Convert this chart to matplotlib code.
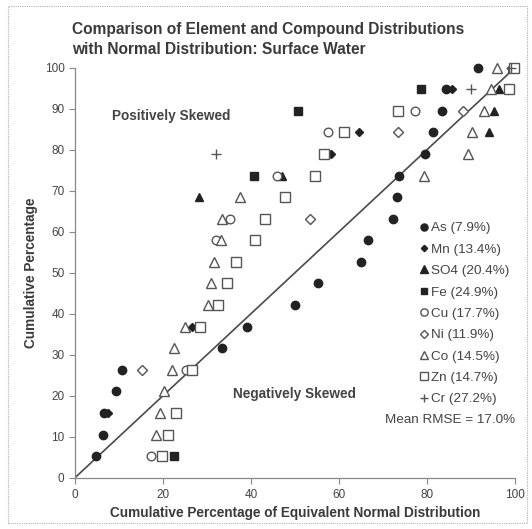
import matplotlib
matplotlib.use("Agg")
import matplotlib.pyplot as plt
from matplotlib.patches import Rectangle

plt.rcParams['font.family'] = ['Liberation Sans', 'DejaVu Sans']

# Cumulative percentage rows (rank / 19)
as_x = [4.7, 6.3, 6.5, 9.3, 10.7, 33.5, 39.2, 50.1, 55.2, 65.0, 66.5, 72.3, 73.1, 73.7, 79.6, 81.3, 83.5, 84.3, 91.6]
as_y = [5.3, 10.5, 15.8, 21.1, 26.3, 31.6, 36.8, 42.1, 47.4, 52.6, 57.9, 63.2, 68.4, 73.7, 78.9, 84.2, 89.5, 94.7, 100]

mn_x = [7.4, 26.6, 58.2, 64.6, 85.6, 99.0]
mn_y = [15.8, 36.8, 78.9, 84.2, 94.7, 100]

so4_x = [28.2, 47.1, 94.1, 95.2, 96.3, 99.3]
so4_y = [68.4, 73.7, 84.2, 89.5, 94.7, 100]

fe_x = [22.5, 40.7, 50.7, 78.6, 99.7]
fe_y = [5.3, 73.7, 89.5, 94.7, 100]

cu_x = [17.2, 25.3, 32.0, 35.3, 46.0, 57.4, 77.3, 99.5]
cu_y = [5.3, 26.3, 57.9, 63.2, 73.7, 84.2, 89.5, 100]

ni_x = [15.3, 53.3, 73.5, 88.1, 99.4]
ni_y = [26.3, 63.2, 84.2, 89.5, 100]

co_x = [18.4, 19.3, 20.3, 22.1, 22.5, 24.9, 30.2, 30.8, 31.7, 33.1, 33.4, 37.6, 79.4, 89.4, 90.2, 93.0, 94.6, 96.0]
co_y = [10.5, 15.8, 21.1, 26.3, 31.6, 36.8, 42.1, 47.4, 52.6, 57.9, 63.2, 68.4, 73.7, 78.9, 84.2, 89.5, 94.7, 100]

zn_x = [19.7, 21.2, 22.9, 26.7, 28.5, 32.5, 34.6, 36.5, 41.0, 43.2, 47.7, 54.5, 56.7, 61.2, 73.3, 98.7, 99.8]
zn_y = [5.3, 10.5, 15.8, 26.3, 36.8, 42.1, 47.4, 52.6, 57.9, 63.2, 68.4, 73.7, 78.9, 84.2, 89.5, 94.7, 100]

cr_x = [32.0, 90.1, 99.2]
cr_y = [78.9, 94.7, 100]

labels = ["As (7.9%)", "Mn (13.4%)", "SO4 (20.4%)", "Fe (24.9%)", "Cu (17.7%)",
          "Ni (11.9%)", "Co (14.5%)", "Zn (14.7%)", "Cr (27.2%)"]
mean_rmse = 17.0

dark = "#222222"
edge = "#555555"
styles = [
    dict(marker="o", ms=6.0, mfc=dark, mec=dark),
    dict(marker="D", ms=3.8, mfc=dark, mec=dark),
    dict(marker="^", ms=6.0, mfc=dark, mec=dark),
    dict(marker="s", ms=5.8, mfc=dark, mec=dark),
    dict(marker="o", ms=6.2, mfc="white", mec=edge),
    dict(marker="D", ms=4.6, mfc="white", mec=edge),
    dict(marker="^", ms=6.8, mfc="white", mec=edge),
    dict(marker="s", ms=6.6, mfc="white", mec=edge),
    dict(marker="+", ms=7.0, mfc=edge, mec=edge),
]
series = [(as_x, as_y), (mn_x, mn_y), (so4_x, so4_y), (fe_x, fe_y), (cu_x, cu_y),
          (ni_x, ni_y), (co_x, co_y), (zn_x, zn_y), (cr_x, cr_y)]

fig = plt.figure(figsize=(5.32, 5.29), dpi=100)
fig.patches.append(Rectangle((0.015, 0.012), 0.975, 0.976, transform=fig.transFigure,
                             fill=False, edgecolor="#b0b0b0", linewidth=0.8, linestyle=(0, (1, 1))))
ax = fig.add_axes([0.141, 0.097, 0.827, 0.775])

# 1:1 reference line for a normal distribution
ax.plot([0, 100], [0, 100], color="#4a4a4a", lw=1.2, zorder=1)

handles = []
for (xs, ys), st, lab in zip(series, styles, labels):
    h, = ax.plot(xs, ys, linestyle="none", marker=st["marker"], markersize=st["ms"],
                 markerfacecolor=st["mfc"], markeredgecolor=st["mec"], markeredgewidth=1.0,
                 label=lab, zorder=3, clip_on=False)
    handles.append(h)

ax.set_xlim(0, 100)
ax.set_ylim(0, 100)
ax.set_xticks(range(0, 101, 20))
ax.set_yticks(range(0, 101, 10))
for s in ["top", "right"]:
    ax.spines[s].set_visible(False)
for s in ["left", "bottom"]:
    ax.spines[s].set_color("#888888")
    ax.spines[s].set_linewidth(0.9)
ax.tick_params(axis="both", colors="#888888", labelcolor="#444444", labelsize=8.5,
               length=4, width=0.8, direction="out")
ax.tick_params(axis="x", pad=4)

ax.set_xlabel("Cumulative Percentage of Equivalent Normal Distribution",
              fontsize=9.8, fontweight="bold", color="#3a3a3a", labelpad=4)
ax.set_ylabel("Cumulative Percentage", fontsize=9.8, fontweight="bold", color="#3a3a3a", labelpad=5)

fig.text(0.135, 0.893, "Comparison of Element and Compound Distributions\nwith Normal Distribution: Surface Water",
         fontsize=11.2, fontweight="bold", color="#3a3a3a", ha="left", va="bottom", linespacing=1.38)

ax.text(8.3, 88.2, "Positively Skewed", fontsize=9.8, fontweight="bold", color="#444444",
        ha="left", va="center")
ax.text(35.9, 20.4, "Negatively Skewed", fontsize=9.8, fontweight="bold", color="#444444",
        ha="left", va="center")

leg = ax.legend(handles=handles, loc="upper left", bbox_to_anchor=(0.771, 0.637),
                frameon=False, fontsize=9.7, handlelength=0.6, handletextpad=0.25,
                labelspacing=0.665, borderaxespad=0, markerscale=0.85)
for t in leg.get_texts():
    t.set_color("#444444")

ax.text(0.705, 0.141, f"Mean RMSE = {mean_rmse:.1f}%", transform=ax.transAxes,
        fontsize=9.7, color="#444444", ha="left", va="center")

fig.savefig("out.png", dpi=100)
